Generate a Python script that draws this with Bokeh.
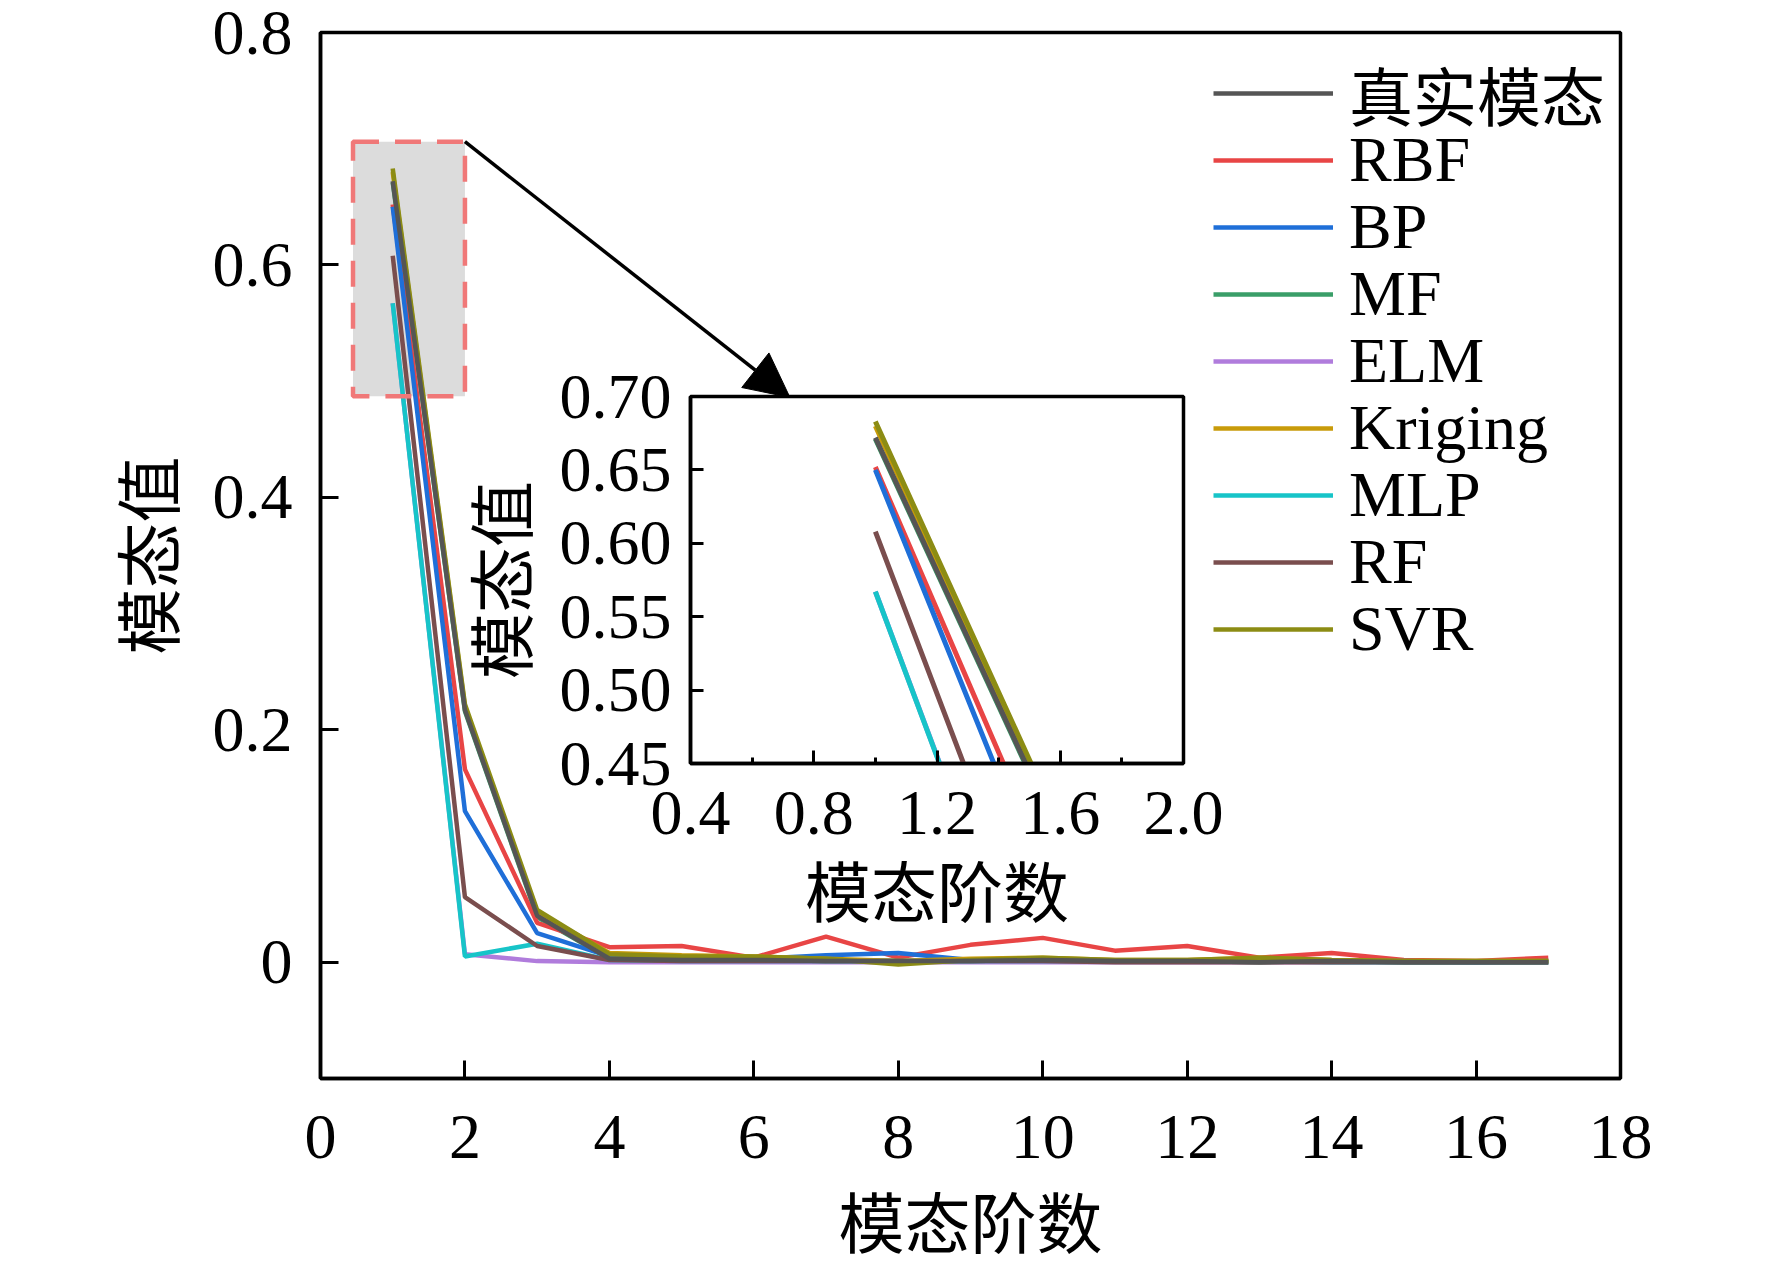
from bokeh.plotting import figure
from bokeh.layouts import column
from bokeh.models import (Arrow, NormalHead, FixedTicker, Legend, LegendItem,
                          Range1d, BoxAnnotation, NumeralTickFormatter)
from bokeh.embed import file_html
from bokeh.resources import INLINE

# mode order 1..17
modes = list(range(1, 18))

true_mode = [0.672, 0.217, 0.040, 0.003, 0.002, 0.002, 0.001, 0.001, 0.001, 0.002, 0.001, 0.001, 0.000, 0.001, 0.000, 0.000, 0.000]
mf        = [0.671, 0.216, 0.039, 0.003, 0.002, 0.002, 0.001, 0.001, 0.001, 0.002, 0.001, 0.001, 0.000, 0.001, 0.000, 0.000, 0.000]
rbf       = [0.652, 0.166, 0.034, 0.013, 0.014, 0.004, 0.022, 0.004, 0.015, 0.021, 0.010, 0.014, 0.004, 0.008, 0.002, 0.001, 0.004]
bp        = [0.650, 0.130, 0.025, 0.005, 0.004, 0.003, 0.006, 0.008, 0.002, 0.002, 0.001, 0.001, 0.001, 0.001, 0.001, 0.000, 0.001]
elm       = [0.567, 0.007, 0.001, 0.000, 0.000, 0.000, 0.000, 0.000, 0.000, 0.000, 0.000, 0.000, 0.000, 0.000, 0.000, 0.000, 0.000]
kriging   = [0.680, 0.220, 0.043, 0.008, 0.006, 0.005, 0.003, 0.001, 0.003, 0.004, 0.002, 0.002, 0.004, 0.002, 0.001, 0.001, 0.001]
mlp       = [0.567, 0.005, 0.016, 0.002, 0.001, 0.001, 0.001, 0.001, 0.001, 0.001, 0.001, 0.001, 0.001, 0.000, 0.000, 0.000, 0.000]
rf        = [0.608, 0.056, 0.014, 0.002, 0.001, 0.001, 0.001, 0.001, 0.001, 0.001, 0.000, 0.000, 0.000, 0.000, 0.000, 0.000, 0.000]
svr       = [0.683, 0.222, 0.045, 0.007, 0.005, 0.005, 0.003, -0.002, 0.002, 0.004, 0.002, 0.002, 0.004, 0.002, 0.001, 0.001, 0.001]

legend_names = ["真实模态", "RBF", "BP", "MF", "ELM", "Kriging", "MLP", "RF", "SVR"]

x_ticks = [0, 2, 4, 6, 8, 10, 12, 14, 16, 18]
y_ticks = [0, 0.2, 0.4, 0.6, 0.8]
inset_x_ticks = [0.4, 0.8, 1.2, 1.6, 2.0]
inset_x_minor = [0.6, 1.0, 1.4, 1.8]
inset_y_ticks = [0.45, 0.50, 0.55, 0.60, 0.65, 0.70]

series = {
    "真实模态": (true_mode, "#555555"),
    "RBF": (rbf, "#e84545"),
    "BP": (bp, "#1f6fd8"),
    "MF": (mf, "#3a9e68"),
    "ELM": (elm, "#b07cdc"),
    "Kriging": (kriging, "#c89b0a"),
    "MLP": (mlp, "#17c4c8"),
    "RF": (rf, "#7a4e4e"),
    "SVR": (svr, "#8c8c14"),
}
draw_order = ["ELM", "MF", "RBF", "BP", "MLP", "RF", "Kriging", "SVR", "真实模态"]

SERIF = "'Liberation Serif'"
MIXED = "'Liberation Serif', 'Noto Sans CJK SC'"


def style_axes(fig, tick_len, label_standoffs):
    fig.grid.visible = False
    fig.outline_line_color = "black"
    fig.outline_line_width = 3.5
    fig.outline_line_alpha = 1
    for ax, std in zip((fig.xaxis[0], fig.yaxis[0]), label_standoffs):
        ax.axis_line_width = 3.5
        ax.axis_line_color = "black"
        ax.major_tick_in = tick_len
        ax.major_tick_out = 0
        ax.major_tick_line_width = 3
        ax.major_tick_line_color = "black"
        ax.minor_tick_in = 0
        ax.minor_tick_out = 0
        ax.major_label_text_font = SERIF
        ax.major_label_text_font_size = "64px"
        ax.major_label_text_color = "black"
        ax.major_label_standoff = std[0]
        ax.axis_label_text_font = MIXED
        ax.axis_label_text_font_size = "66px"
        ax.axis_label_text_font_style = "normal"
        ax.axis_label_text_color = "black"
        ax.axis_label_standoff = std[1]


# main chart
p = figure(width=1750, height=1264, x_range=Range1d(0, 18), y_range=Range1d(-0.1, 0.8),
           output_backend="svg", toolbar_location=None,
           min_border_left=320, min_border_right=130, min_border_top=32, min_border_bottom=185,
           x_axis_label="模态阶数", y_axis_label="模态值")
p.frame_align = False
style_axes(p, 18, [(37, 28), (28, 22)])
p.xaxis.ticker = FixedTicker(ticks=x_ticks)
p.yaxis.ticker = FixedTicker(ticks=y_ticks)
p.yaxis.formatter = NumeralTickFormatter(format="0.[0]")

# zoom window (under the lines) + dashed outline (over the lines)
p.add_layout(BoxAnnotation(left=0.45, right=2.0, bottom=0.487, top=0.706,
                           fill_color="#dcdcdc", fill_alpha=1, line_alpha=0, level="underlay"))

renderers = {}
for name in draw_order:
    vals, col = series[name]
    renderers[name] = p.line(modes, vals, line_color=col, line_width=4.5)

p.add_layout(BoxAnnotation(left=0.45, right=2.0, bottom=0.487, top=0.706,
                           fill_alpha=0, line_color="#f07878", line_alpha=1, line_width=4.5,
                           line_dash="26 16", level="overlay"))

p.add_layout(Arrow(end=NormalHead(size=44, fill_color="black", line_color="black"),
                   x_start=2.0, y_start=0.706, x_end=6.5, y_end=0.486,
                   line_width=3.5, line_color="black"))

# one single-row legend per entry so the row pitch can be set exactly
# (the CJK entry gets a taller text box, so it sits a little lower)
row_pitch = 67
for i, n in enumerate(legend_names):
    shift = 9 if i == 0 else 0
    p.add_layout(Legend(items=[LegendItem(label=n, renderers=[renderers[n]])],
                        location=(893, 948 - row_pitch * i - shift),
                        label_text_font=MIXED, label_text_font_size="64px",
                        label_text_color="black",
                        glyph_width=120, glyph_height=40, label_standoff=16, spacing=0,
                        padding=0, margin=0, border_line_alpha=0, background_fill_alpha=0))

# inset
ins = figure(frame_width=493, frame_height=367, x_range=Range1d(0.4, 2.0), y_range=Range1d(0.45, 0.70),
             output_backend="svg", toolbar_location=None,
             min_border_left=340, min_border_right=60, min_border_top=40, min_border_bottom=175,
             x_axis_label="模态阶数", y_axis_label="模态值")
ins.frame_align = False
style_axes(ins, 13, [(28, 21), (19, 16)])
ins.border_fill_color = None
ins.border_fill_alpha = 0
ins.xaxis.ticker = FixedTicker(ticks=inset_x_ticks, minor_ticks=inset_x_minor)
ins.xaxis.minor_tick_in = 6
ins.xaxis.minor_tick_line_width = 3
ins.xaxis.minor_tick_line_color = "black"
ins.yaxis.ticker = FixedTicker(ticks=inset_y_ticks)
ins.xaxis.formatter = NumeralTickFormatter(format="0.0")
ins.yaxis.formatter = NumeralTickFormatter(format="0.00")
for name in draw_order:
    vals, col = series[name]
    ins.line(modes, vals, line_color=col, line_width=5)

ins.styles = {"position": "absolute", "left": "350px", "top": "356px"}

layout = column(p, ins)
open("out.html", "w").write(file_html(layout, INLINE))
